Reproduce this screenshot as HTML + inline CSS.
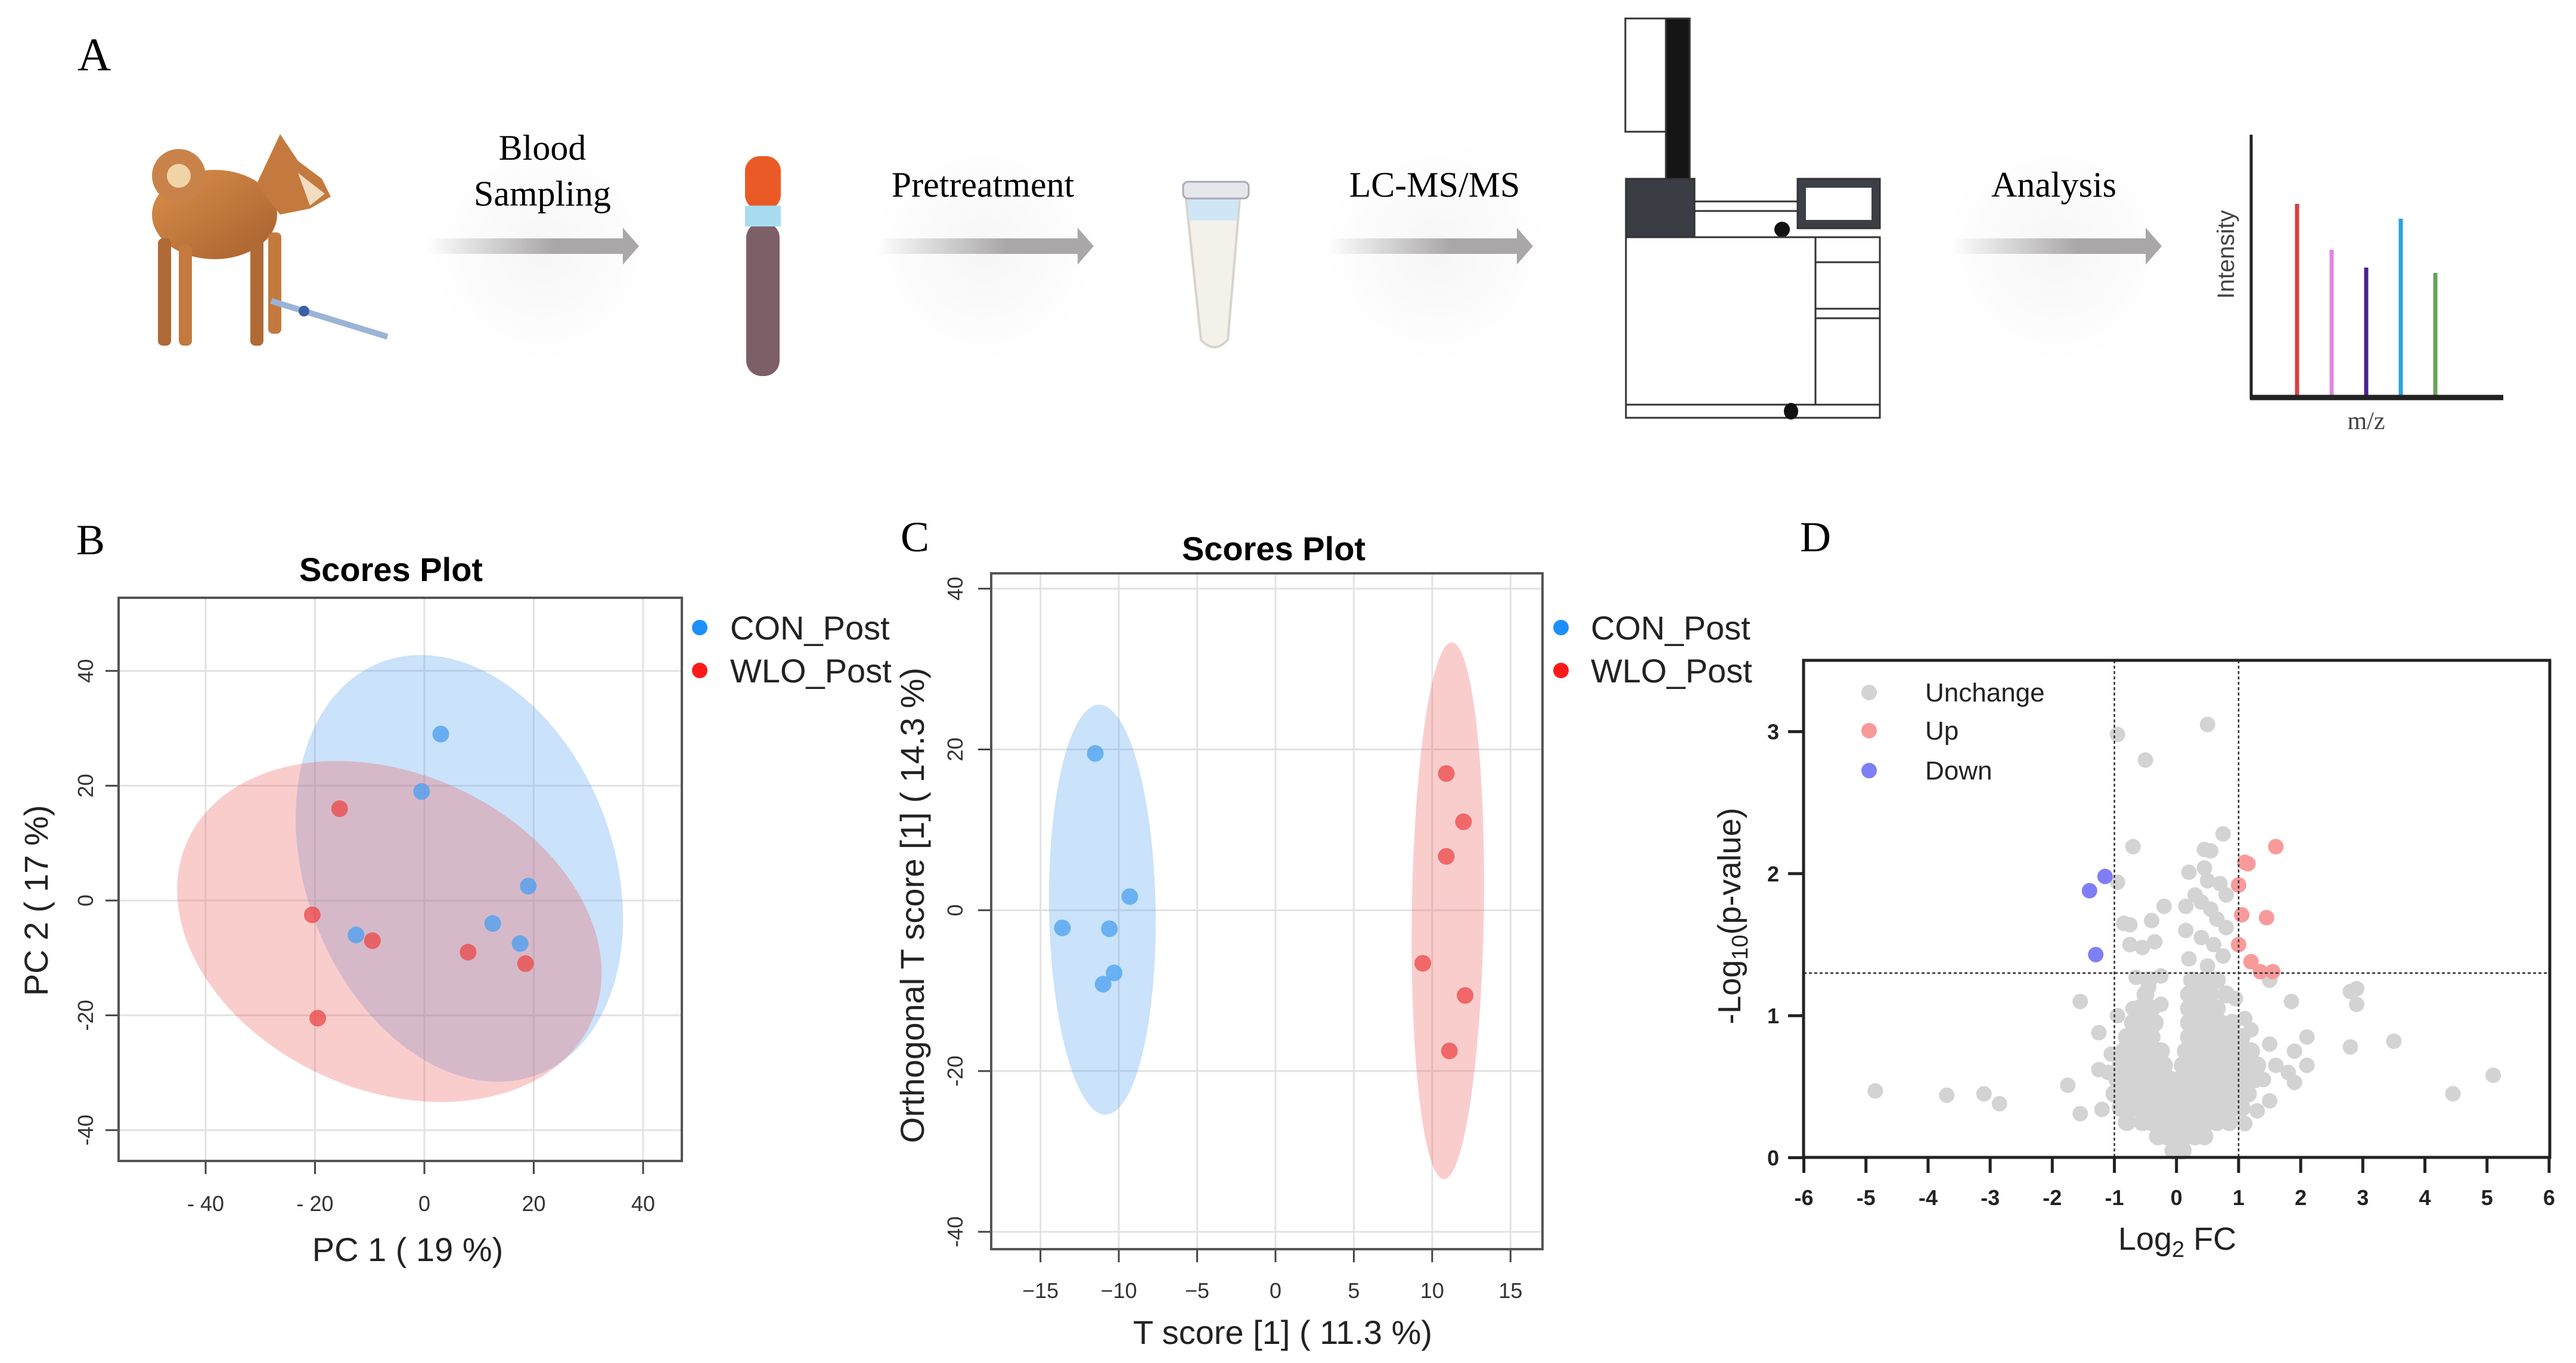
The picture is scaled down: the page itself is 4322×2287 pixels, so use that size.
<!DOCTYPE html>
<html><head><meta charset="utf-8"><title>Figure</title>
<style>
html,body{margin:0;padding:0;background:#fff;}
svg{display:block;}
.serif{font-family:"Liberation Serif",serif;}
.sans{font-family:"Liberation Sans",sans-serif;}
</style></head>
<body>
<svg id="fig" xmlns="http://www.w3.org/2000/svg" width="4322" height="2287" viewBox="0 0 4322 2287">
<defs>
<linearGradient id="arrowGrad" x1="0" x2="1" y1="0" y2="0">
<stop offset="0" stop-color="#ffffff"/><stop offset="0.6" stop-color="#a9a7a7"/><stop offset="1" stop-color="#a9a7a7"/>
</linearGradient>
<radialGradient id="halo" cx="0.5" cy="0.5" r="0.5">
<stop offset="0" stop-color="#f6f6f6"/><stop offset="1" stop-color="#ffffff"/>
</radialGradient>
<linearGradient id="dogGrad" x1="0" x2="1" y1="0" y2="1">
<stop offset="0" stop-color="#d9904a"/><stop offset="1" stop-color="#a8602f"/>
</linearGradient>
</defs>

<!-- PANEL A -->
<g>
<text class="serif" x="130" y="118" font-size="78">A</text>
<g>
<ellipse cx="360" cy="360" rx="105" ry="75" fill="url(#dogGrad)"/>
<circle cx="300" cy="295" r="45" fill="#c9834a"/>
<circle cx="300" cy="295" r="20" fill="#f1d3a8"/>
<path d="M430 310 L470 225 L500 270 L540 300 L555 330 L520 350 L470 360 Z" fill="#c47a3e"/>
<path d="M500 290 L545 325 L520 345 Z" fill="#f3dcc0"/>
<rect x="265" y="400" width="22" height="180" rx="8" fill="#b06a35"/>
<rect x="300" y="410" width="22" height="170" rx="8" fill="#c47a3e"/>
<rect x="420" y="400" width="22" height="180" rx="8" fill="#b06a35"/>
<rect x="450" y="390" width="22" height="170" rx="8" fill="#c47a3e"/>
<line x1="455" y1="505" x2="650" y2="565" stroke="#9bb3d6" stroke-width="10"/>
<circle cx="510" cy="522" r="9" fill="#3b5fa8"/>
</g>
<circle cx="910" cy="420" r="190" fill="url(#halo)"/>
<text class="serif" x="910" y="268" font-size="60" text-anchor="middle">Blood</text>
<text class="serif" x="910" y="345" font-size="60" text-anchor="middle">Sampling</text>
<path d="M715 400 H1045 V382 L1072 413 L1045 444 V426 H715 Z" fill="url(#arrowGrad)"/>
<g>
<rect x="1250" y="262" width="60" height="90" rx="25" fill="#ea5a26"/>
<rect x="1250" y="345" width="60" height="30" fill="#a8dcf0"/>
<rect x="1252" y="373" width="56" height="258" rx="26" fill="#7d5f68"/>
<rect x="1250" y="360" width="60" height="20" fill="#a8dcf0"/>
</g>
<circle cx="1650" cy="420" r="190" fill="url(#halo)"/>
<text class="serif" x="1649" y="330" font-size="60" text-anchor="middle">Pretreatment</text>
<path d="M1470 400 H1808 V382 L1835 413 L1808 444 V426 H1470 Z" fill="url(#arrowGrad)"/>
<g>
<path d="M1990 335 L2080 335 L2060 570 Q2037 595 2015 570 Z" fill="#f4f1ea" stroke="#d8d4cc" stroke-width="4"/>
<rect x="1985" y="305" width="110" height="28" rx="8" fill="#e5e7ea" stroke="#aab" stroke-width="3"/>
<path d="M1992 335 L2078 335 L2075 370 L1995 370 Z" fill="#cfe6f6"/>
</g>
<circle cx="2410" cy="420" r="190" fill="url(#halo)"/>
<text class="serif" x="2407" y="330" font-size="60" text-anchor="middle">LC-MS/MS</text>
<path d="M2228 400 H2545 V382 L2572 413 L2545 444 V426 H2228 Z" fill="url(#arrowGrad)"/>
<g stroke="#333" stroke-width="3">
<rect x="2727" y="31" width="68" height="190" fill="#fff"/>
<rect x="2795" y="31" width="40" height="270" fill="#151515"/>
<rect x="2728" y="300" width="115" height="98" fill="#3a3d44"/>
<line x1="2843" y1="338" x2="3016" y2="338"/>
<line x1="2843" y1="354" x2="3016" y2="354"/>
<rect x="3016" y="300" width="138" height="83" fill="#3c3f45"/>
<rect x="3030" y="315" width="110" height="54" fill="#fff" stroke="none"/>
<circle cx="2990" cy="385" r="13" fill="#111" stroke="none"/>
<rect x="2728" y="398" width="318" height="281" fill="#fff"/>
<rect x="3046" y="398" width="108" height="300" fill="#fff"/>
<line x1="3046" y1="440" x2="3154" y2="440"/>
<line x1="3046" y1="518" x2="3154" y2="518"/>
<line x1="3046" y1="534" x2="3154" y2="534"/>
<rect x="2728" y="679" width="426" height="22" fill="#fff"/>
<ellipse cx="3005" cy="690" rx="12" ry="14" fill="#111" stroke="none"/>
</g>
<circle cx="3450" cy="420" r="190" fill="url(#halo)"/>
<text class="serif" x="3446" y="330" font-size="60" text-anchor="middle">Analysis</text>
<path d="M3275 400 H3600 V382 L3627 413 L3600 444 V426 H3275 Z" fill="url(#arrowGrad)"/>
<g>
<line x1="3854" y1="342" x2="3854" y2="667" stroke="#d84040" stroke-width="7"/>
<line x1="3912" y1="419" x2="3912" y2="667" stroke="#dd88e0" stroke-width="7"/>
<line x1="3970" y1="449" x2="3970" y2="667" stroke="#4b2290" stroke-width="7"/>
<line x1="4028" y1="367" x2="4028" y2="667" stroke="#2aa3dc" stroke-width="7"/>
<line x1="4086" y1="458" x2="4086" y2="667" stroke="#67a35a" stroke-width="7"/>
<line x1="3777" y1="226" x2="3777" y2="670" stroke="#222" stroke-width="5"/>
<line x1="3775" y1="667" x2="4200" y2="667" stroke="#222" stroke-width="9"/>
<text class="sans" transform="translate(3748,427) rotate(-90)" font-size="40" text-anchor="middle" fill="#444">Intensity</text>
<text class="serif" x="3970" y="720" font-size="42" text-anchor="middle" fill="#444">m/z</text>
</g>
</g>

<g id="panelB"></g>
<g id="panelC"></g>
<g id="panelD"></g>
</svg>

<script>
// ---------- DATA: Panel B (PCA) ----------
const pcaConX = [3, -0.5, 19, 12.5, 17.5, -12.5];
const pcaConY = [29, 19, 2.5, -4, -7.5, -6];
const pcaWloX = [-15.5, -20.5, -9.5, 8, 18.5, -19.5];
const pcaWloY = [16, -2.5, -7, -9, -11, -20.5];
const pcaTicks = [-40, -20, 0, 20, 40];
const pcaXTickLabels = ["- 40", "- 20", "0", "20", "40"];
const pcaYTickLabels = ["-40", "-20", "0", "20", "40"];
const pcaConEllipse = [6.4, 5.6, -12.5, 36.5, 27.2, 7.1];
const pcaWloEllipse = [-6.4, -5.4, 35.5, -18.3, -15.7, -23.4];

// ---------- DATA: Panel C (OPLS-DA) ----------
const oplsConX = [-11.5, -9.3, -13.6, -10.6, -10.3, -11];
const oplsConY = [19.5, 1.7, -2.2, -2.3, -7.8, -9.2];
const oplsWloX = [10.9, 12, 10.9, 9.4, 12.1, 11.1];
const oplsWloY = [17, 11, 6.7, -6.6, -10.6, -17.5];
const oplsXTicks = [-15, -10, -5, 0, 5, 10, 15];
const oplsXTickLabels = ["\u221215", "\u221210", "\u22125", "0", "5", "10", "15"];
const oplsYTicks = [-40, -20, 0, 20, 40];
const oplsYTickLabels = ["-40", "-20", "0", "20", "40"];
const oplsConEllipse = [-11.05, 0.07, -0.2, 25.5, 3.4, 0];
const oplsWloEllipse = [11.0, -0.07, 0.25, 33.4, 2.3, 0];

// ---------- DATA: Panel D (volcano) ----------
const volOutX = [-4.85,-3.7,-3.1,-2.85,-1.75,-1.55,-1.55,-1.2,-1.25,-1.25,-1.1,-1.05,-0.95,-0.95,-0.95,-0.5,-0.7,-0.85,-0.75,-0.4,-0.2,-0.75,-0.55,-0.35,-0.65,-0.25,-0.45,-0.7,-0.25,0.5,0.75,0.45,0.55,0.2,0.45,0.5,0.7,0.8,0.3,0.15,0.4,0.55,0.65,0.8,0.15,0.4,0.6,0.75,0.2,0.5,1.5,1.85,0.95,2.8,2.9,2.9,2.8,3.5,2.1,2.1,1.9,1.8,1.9,1.6,1.5,1.4,1.5,1.2,1.1,1.3,1.1,4.45,5.1];
const volOutY = [0.47,0.44,0.45,0.38,0.51,1.1,0.31,0.34,0.88,0.62,0.6,0.73,1.0,1.94,2.98,2.8,2.19,1.65,1.64,1.67,1.77,1.5,1.48,1.52,1.27,1.28,1.2,1.05,1.08,3.05,2.28,2.17,2.16,2.01,2.04,1.95,1.93,1.85,1.85,1.77,1.8,1.75,1.68,1.62,1.6,1.55,1.5,1.42,1.4,1.35,1.25,1.1,1.12,1.17,1.19,1.08,0.78,0.82,0.85,0.65,0.75,0.6,0.53,0.65,0.8,0.55,0.4,0.9,0.98,0.33,0.24,0.45,0.58];
const volCoreLevels = [0.05,0.15,0.25,0.35,0.45,0.55,0.65,0.75,0.85,0.95,1.05,1.15,1.25];
const volCoreXs = [
 [-0.05,0.05,0.1],
 [-0.3,-0.15,0,0.15,0.3,0.45],
 [-0.8,-0.55,-0.4,-0.25,-0.1,0.05,0.2,0.35,0.5,0.65,0.85],
 [-0.9,-0.7,-0.5,-0.35,-0.2,-0.05,0.1,0.25,0.4,0.55,0.7,0.9,1.05],
 [-1.0,-0.8,-0.6,-0.45,-0.3,-0.15,0,0.15,0.3,0.45,0.6,0.75,0.95,1.15],
 [-0.95,-0.75,-0.55,-0.4,-0.25,-0.1,0.05,0.2,0.35,0.5,0.7,0.85,1.05,1.25],
 [-0.9,-0.7,-0.5,-0.35,-0.2,0.1,0.25,0.4,0.55,0.7,0.9,1.1,1.3],
 [-0.85,-0.65,-0.45,-0.25,0.15,0.3,0.45,0.6,0.8,1.0,1.2],
 [-0.8,-0.6,-0.4,0.2,0.35,0.5,0.65,0.85,1.05],
 [-0.7,-0.5,-0.35,0.2,0.35,0.5,0.7,0.9],
 [-0.6,-0.4,0.2,0.35,0.5,0.65],
 [-0.5,0.2,0.4,0.55,0.8],
 [-0.45,0.25,0.45,0.65]
];
const volUpX = [1.1,1.15,1.6,1.0,1.05,1.45,1.0,1.2,1.35,1.55];
const volUpY = [2.08,2.07,2.19,1.92,1.71,1.69,1.5,1.38,1.31,1.31];
const volDownX = [-1.15,-1.4,-1.3];
const volDownY = [1.98,1.88,1.43];
const volXTicks = [-6,-5,-4,-3,-2,-1,0,1,2,3,4,5,6];
const volXTickLabels = ["-6","-5","-4","-3","-2","-1","0","1","2","3","4","5","6"];
const volYTicks = [0,1,2,3];
const volYTickLabels = ["0","1","2","3"];
const volFcThresh = [-1, 1];
const volPThresh = [1.3];

const NS = "http://www.w3.org/2000/svg";
function mk(parent, tag, attrs, txt) {
  const e = document.createElementNS(NS, tag);
  for (const k in attrs) e.setAttribute(k, attrs[k]);
  if (txt !== undefined) e.textContent = txt;
  parent.appendChild(e);
  return e;
}
function ellipsePath(sx, sy, p) {
  let d = "";
  for (let i = 0; i <= 120; i++) {
    const t = i / 120 * 2 * Math.PI;
    const x = p[0] + Math.cos(t) * p[2] + Math.sin(t) * p[4];
    const y = p[1] + Math.cos(t) * p[3] + Math.sin(t) * p[5];
    d += (i ? "L" : "M") + sx(x).toFixed(1) + " " + sy(y).toFixed(1);
  }
  return d + "Z";
}

// ---------- Panel B ----------
(function(){
  const g = document.getElementById("panelB");
  const L = 199, R = 1144, T = 1003, B = 1948;
  const sx = v => 712 + v * 9.175;
  const sy = v => 1511 - v * 9.63;
  let e;
  e = mk(g, "text", {x:152, y:930, "font-size":72, class:"serif", "text-anchor":"middle"}, "B");
  
  
  e = mk(g, "text", {x:656, y:975, "font-size":56, "font-weight":"bold", class:"sans", "text-anchor":"middle"}, "Scores Plot");
  
  
  pcaTicks.forEach((t, i) => {
    e = mk(g, "line", {x1:sx(t), x2:sx(t), y1:T, y2:B, stroke:"#e2e2e2", "stroke-width":3});
    
    
    e = mk(g, "line", {x1:L, x2:R, y1:sy(t), y2:sy(t), stroke:"#e2e2e2", "stroke-width":3});
    
    
    e = mk(g, "line", {x1:sx(t), x2:sx(t), y1:B, y2:B+22, stroke:"#444", "stroke-width":3});
    
    
    e = mk(g, "line", {x1:L-22, x2:L, y1:sy(t), y2:sy(t), stroke:"#444", "stroke-width":3});
    
    
    e = mk(g, "text", {x:sx(t), y:2032, "font-size":36, fill:"#333", class:"sans", "text-anchor":"middle"}, pcaXTickLabels[i]);
    
    
    e = mk(g, "text", {transform:`translate(156,${sy(t)}) rotate(-90)`, "font-size":36, fill:"#333", class:"sans", "text-anchor":"middle"}, pcaYTickLabels[i]);
    
    
  });
  e = mk(g, "path", {d:ellipsePath(sx, sy, pcaConEllipse), fill:"rgb(90,165,240)", "fill-opacity":0.32});
  
  
  e = mk(g, "path", {d:ellipsePath(sx, sy, pcaWloEllipse), fill:"rgb(240,90,90)", "fill-opacity":0.3});
  
  
  pcaConX.forEach((x, i) => {
    e = mk(g, "circle", {cx:sx(x), cy:sy(pcaConY[i]), r:14, fill:"rgb(80,160,240)", "fill-opacity":0.8});
    
    
  });
  pcaWloX.forEach((x, i) => {
    e = mk(g, "circle", {cx:sx(x), cy:sy(pcaWloY[i]), r:14, fill:"rgb(236,70,70)", "fill-opacity":0.75});
    
    
  });
  e = mk(g, "rect", {x:L, y:T, width:R-L, height:B-T, fill:"none", stroke:"#555", "stroke-width":4});
  
  
  e = mk(g, "text", {x:684, y:2116, "font-size":56, fill:"#222", class:"sans", "text-anchor":"middle"}, "PC 1 ( 19 %)");
  
  
  e = mk(g, "text", {transform:"translate(80,1511) rotate(-90)", "font-size":56, fill:"#222", class:"sans", "text-anchor":"middle"}, "PC 2 ( 17 %)");
  
  
  e = mk(g, "circle", {cx:1174, cy:1053, r:13, fill:"#1e8fff"});
  
  
  e = mk(g, "text", {x:1225, y:1073, "font-size":56, fill:"#222", class:"sans"}, "CON_Post");
  
  
  e = mk(g, "circle", {cx:1174, cy:1125, r:13, fill:"#ff1a1a"});
  
  
  e = mk(g, "text", {x:1225, y:1145, "font-size":56, fill:"#222", class:"sans"}, "WLO_Post");
  
  
})();

// ---------- Panel C ----------
(function(){
  const g = document.getElementById("panelC");
  const L = 1663, R = 2588, T = 962, B = 2096;
  const sx = v => 2140 + v * 26.29;
  const sy = v => 1527.3 - v * 13.49;
  let e;
  e = mk(g, "text", {x:1535, y:925, "font-size":72, class:"serif", "text-anchor":"middle"}, "C");
  
  
  e = mk(g, "text", {x:2137, y:940, "font-size":56, "font-weight":"bold", class:"sans", "text-anchor":"middle"}, "Scores Plot");
  
  
  oplsXTicks.forEach((t, i) => {
    e = mk(g, "line", {x1:sx(t), x2:sx(t), y1:T, y2:B, stroke:"#e2e2e2", "stroke-width":3});
    
    
    e = mk(g, "line", {x1:sx(t), x2:sx(t), y1:B, y2:B+22, stroke:"#444", "stroke-width":3});
    
    
    e = mk(g, "text", {x:sx(t), y:2178, "font-size":36, fill:"#333", class:"sans", "text-anchor":"middle"}, oplsXTickLabels[i]);
    
    
  });
  oplsYTicks.forEach((t, i) => {
    e = mk(g, "line", {x1:L, x2:R, y1:sy(t), y2:sy(t), stroke:"#e2e2e2", "stroke-width":3});
    
    
    e = mk(g, "line", {x1:L-22, x2:L, y1:sy(t), y2:sy(t), stroke:"#444", "stroke-width":3});
    
    
    e = mk(g, "text", {transform:`translate(1615,${sy(t)}) rotate(-90)`, "font-size":36, fill:"#333", class:"sans", "text-anchor":"middle"}, oplsYTickLabels[i]);
    
    
  });
  e = mk(g, "path", {d:ellipsePath(sx, sy, oplsConEllipse), fill:"rgb(90,165,240)", "fill-opacity":0.32});
  
  
  e = mk(g, "path", {d:ellipsePath(sx, sy, oplsWloEllipse), fill:"rgb(240,90,90)", "fill-opacity":0.3});
  
  
  oplsConX.forEach((x, i) => {
    e = mk(g, "circle", {cx:sx(x), cy:sy(oplsConY[i]), r:14, fill:"rgb(80,165,240)", "fill-opacity":0.8});
    
    
  });
  oplsWloX.forEach((x, i) => {
    e = mk(g, "circle", {cx:sx(x), cy:sy(oplsWloY[i]), r:14, fill:"rgb(236,70,70)", "fill-opacity":0.75});
    
    
  });
  e = mk(g, "rect", {x:L, y:T, width:R-L, height:B-T, fill:"none", stroke:"#555", "stroke-width":4});
  
  
  e = mk(g, "text", {x:2152, y:2255, "font-size":56, fill:"#222", class:"sans", "text-anchor":"middle"}, "T score [1] ( 11.3 %)");
  
  
  e = mk(g, "text", {transform:"translate(1550,1519) rotate(-90)", "font-size":56, fill:"#222", class:"sans", "text-anchor":"middle"}, "Orthogonal T score [1] ( 14.3 %)");
  
  
  e = mk(g, "circle", {cx:2619, cy:1053, r:13, fill:"#1e8fff"});
  
  
  e = mk(g, "text", {x:2669, y:1073, "font-size":56, fill:"#222", class:"sans"}, "CON_Post");
  
  
  e = mk(g, "circle", {cx:2619, cy:1125, r:13, fill:"#ff1a1a"});
  
  
  e = mk(g, "text", {x:2669, y:1145, "font-size":56, fill:"#222", class:"sans"}, "WLO_Post");
  
  
})();

// ---------- Panel D ----------
(function(){
  const g = document.getElementById("panelD");
  const L = 3026, R = 4278, T = 1108, B = 1942;
  const sx = v => 3651.7 + v * 104.2;
  const sy = v => 1942.5 - v * 238.3;
  let e;
  e = mk(g, "text", {x:3046, y:925, "font-size":72, class:"serif", "text-anchor":"middle"}, "D");
  
  
  const gray = "#d3d3d3";
  volOutX.forEach((x, i) => {
    e = mk(g, "circle", {cx:sx(x), cy:sy(volOutY[i]), r:13, fill:gray});
    
    
  });
  volCoreLevels.forEach((yv, j) => {
    volCoreXs[j].forEach(x => {
      e = mk(g, "circle", {cx:sx(x), cy:sy(yv), r:15, fill:gray});
      
      
    });
  });
  volUpX.forEach((x, i) => {
    e = mk(g, "circle", {cx:sx(x), cy:sy(volUpY[i]), r:13, fill:"#f89a9a"});
    
    
  });
  volDownX.forEach((x, i) => {
    e = mk(g, "circle", {cx:sx(x), cy:sy(volDownY[i]), r:13, fill:"#7f7ff5"});
    
    
  });
  volFcThresh.forEach(t => {
    e = mk(g, "line", {x1:sx(t), x2:sx(t), y1:T, y2:B, stroke:"#333", "stroke-width":2.5, "stroke-dasharray":"5 4"});
    
    
  });
  volPThresh.forEach(t => {
    e = mk(g, "line", {x1:L, x2:R, y1:sy(t), y2:sy(t), stroke:"#333", "stroke-width":2.5, "stroke-dasharray":"5 4"});
    
    
  });
  e = mk(g, "rect", {x:L, y:T, width:R-L, height:B-T, fill:"none", stroke:"#222", "stroke-width":5});
  
  
  volXTicks.forEach((t, i) => {
    e = mk(g, "line", {x1:sx(t), x2:sx(t), y1:B, y2:B+26, stroke:"#222", "stroke-width":5});
    
    
    e = mk(g, "text", {x:sx(t), y:2022, "font-size":36, "font-weight":"bold", fill:"#222", class:"sans", "text-anchor":"middle"}, volXTickLabels[i]);
    
    
  });
  volYTicks.forEach((t, i) => {
    e = mk(g, "line", {x1:L-26, x2:L, y1:sy(t), y2:sy(t), stroke:"#222", "stroke-width":5});
    
    
    e = mk(g, "text", {x:2985, y:sy(t)+13, "font-size":36, "font-weight":"bold", fill:"#222", class:"sans", "text-anchor":"end"}, volYTickLabels[i]);
    
    
  });
  e = mk(g, "text", {x:3653, y:2097, "font-size":54, fill:"#222", class:"sans", "text-anchor":"middle"});
  e.innerHTML = 'Log<tspan font-size="38" dy="12">2</tspan><tspan dy="-12"> FC</tspan>';
  
  
  e = mk(g, "text", {transform:"translate(2920,1537) rotate(-90)", "font-size":54, fill:"#222", class:"sans", "text-anchor":"middle"});
  e.innerHTML = '-Log<tspan font-size="38" dy="12">10</tspan><tspan dy="-12">(p-value)</tspan>';
  
  
  const legColors = ["#d3d3d3", "#f89a9a", "#7f7ff5"];
  const legLabels = ["Unchange", "Up", "Down"];
  const legY = [1162, 1226, 1293];
  legLabels.forEach((lab, i) => {
    e = mk(g, "circle", {cx:3136, cy:legY[i], r:13, fill:legColors[i]});
    
    
    e = mk(g, "text", {x:3230, y:legY[i]+15, "font-size":44, fill:"#222", class:"sans"}, lab);
    
    
  });
})();
</script>
</body></html>
